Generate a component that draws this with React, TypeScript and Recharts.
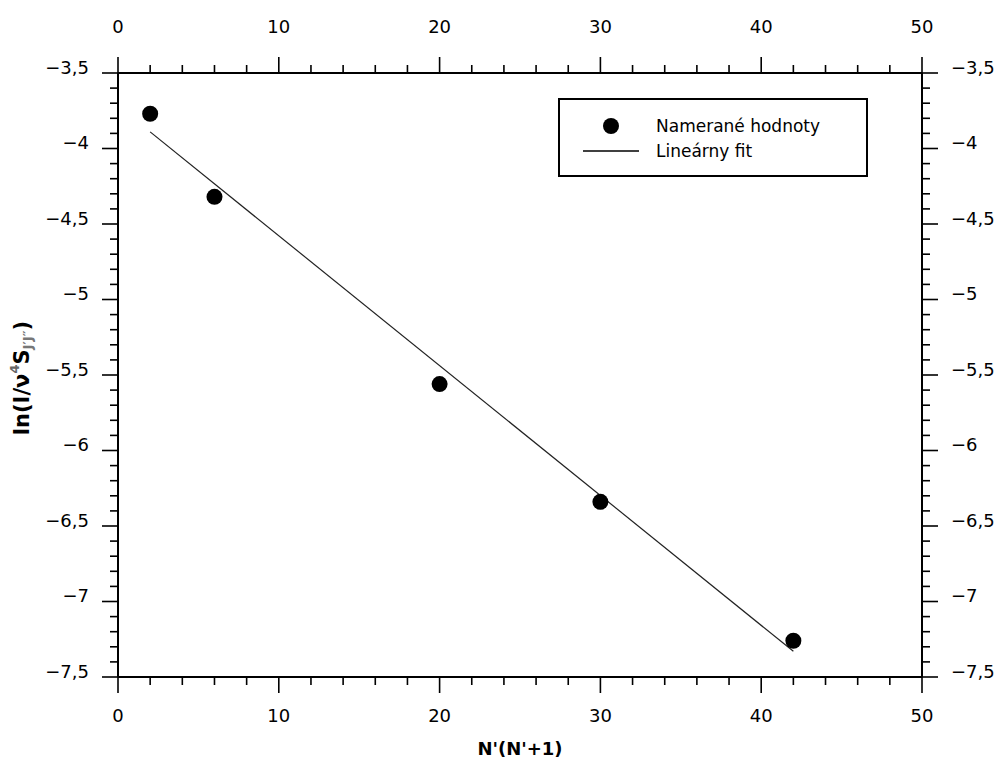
import { ComposedChart, XAxis, YAxis, Scatter, Label } from "recharts";

// measured points: N'(N'+1) vs ln(I / v^4 S)
const nValues = [2, 6, 20, 30, 42];
const lnValues = [-3.77, -4.32, -5.56, -6.34, -7.26];

// linear fit end points
const fitX = [2, 42];
const fitY = [-3.89, -7.33];

// axis ticks (majors get labels, minors are just marks)
const xMajorTicks = [0, 10, 20, 30, 40, 50];
const xMinorStep = 2;
const yMajorTicks = [-7.5, -7, -6.5, -6, -5.5, -5, -4.5, -4, -3.5];
const yMinorStep = 0.1;

const legendItems = ["Namerané hodnoty", "Lineárny fit"];

const points = nValues.map((x, i) => ({ x, y: lnValues[i] }));
const fit = fitX.map((x, i) => ({ x, y: fitY[i] }));

const xTicks: number[] = [];
for (let v = xMajorTicks[0]; v <= xMajorTicks[xMajorTicks.length - 1]; v += xMinorStep) xTicks.push(v);
const yTicks: number[] = [];
for (let i = 0; ; i++) {
  const v = Math.round((yMajorTicks[0] + i * yMinorStep) * 10) / 10;
  if (v > yMajorTicks[yMajorTicks.length - 1] + 1e-9) break;
  yTicks.push(v);
}

const FONT = "'DejaVu Sans', Verdana, sans-serif";
const INK = "#000";

function fmt(v: number) {
  const s = Number.isInteger(v) ? String(v) : v.toFixed(1).replace(".", ",");
  return s.replace("-", "\u2212");
}

const isXMajor = (v: number) => xMajorTicks.includes(v);
const isYMajor = (v: number) => yMajorTicks.some((m) => Math.abs(m - v) < 1e-6);

function XTick(props: any) {
  const { x, y, payload, side } = props;
  const v = payload.value;
  const major = isXMajor(v);
  const dir = side === "bottom" ? 1 : -1;
  const len = major ? 16 : 8;
  return (
    <g>
      <line x1={x} x2={x} y1={y} y2={y + dir * len} stroke={INK} strokeWidth={1.6} />
      {major && (
        <text
          x={x}
          y={side === "bottom" ? y + 38 : y - 47}
          textAnchor="middle"
          dominantBaseline="central"
          fontFamily={FONT}
          fontSize={18}
          fill={INK}
        >
          {fmt(v)}
        </text>
      )}
    </g>
  );
}

function YTick(props: any) {
  const { x, y, payload, side } = props;
  const v = payload.value;
  const major = isYMajor(v);
  const dir = side === "left" ? -1 : 1;
  const len = major ? 16 : 8;
  return (
    <g>
      <line x1={x} x2={x + dir * len} y1={y} y2={y} stroke={INK} strokeWidth={1.6} />
      {major && (
        <text
          x={x + dir * 29}
          y={y - 6}
          textAnchor={side === "left" ? "end" : "start"}
          dominantBaseline="central"
          fontFamily={FONT}
          fontSize={18}
          fill={INK}
        >
          {fmt(v)}
        </text>
      )}
    </g>
  );
}

function Dot(props: any) {
  const { cx, cy } = props;
  return <circle cx={cx} cy={cy} r={8} fill={INK} />;
}

function NoDot() {
  return <g />;
}

function YTitle(props: any) {
  const { viewBox } = props;
  const x = viewBox.x + 22;
  const y = viewBox.y + viewBox.height / 2 + 3;
  return (
    <text
      x={x}
      y={y}
      transform={`rotate(-90, ${x}, ${y})`}
      textAnchor="middle"
      dominantBaseline="central"
      fontFamily={FONT}
      fontWeight="bold"
      fontSize={21}
      fill={INK}
    >
      ln(I/ν
      <tspan fontSize={13} dy={-8} fill="#666">4</tspan>
      <tspan dy={8}>S</tspan>
      <tspan fontSize={13} dy={5} fill="#777">J′J″</tspan>
      <tspan dy={-5}>)</tspan>
    </text>
  );
}

function XTitle(props: any) {
  const { viewBox } = props;
  return (
    <text
      x={viewBox.x + viewBox.width / 2}
      y={viewBox.y + 71}
      textAnchor="middle"
      dominantBaseline="central"
      fontFamily={FONT}
      fontWeight="bold"
      fontSize={18}
      fill={INK}
    >
      N'(N'+1)
    </text>
  );
}

export default function App() {
  return (
    <div style={{ position: "absolute", left: 0, top: 0, width: 1000, height: 766, background: "#fff" }}>
      <ComposedChart width={1000} height={766} margin={{ top: 0, right: 0, bottom: 0, left: 0 }}>
        <XAxis
          xAxisId="b"
          type="number"
          dataKey="x"
          orientation="bottom"
          domain={[0, 50]}
          ticks={xTicks}
          interval={0}
          height={89}
          tickSize={0}
          tickMargin={0}
          tickLine={false}
          axisLine={{ stroke: INK, strokeWidth: 2 }}
          tick={<XTick side="bottom" />}
        >
          <Label content={<XTitle />} />
        </XAxis>
        <XAxis
          xAxisId="t"
          type="number"
          dataKey="x"
          orientation="top"
          domain={[0, 50]}
          ticks={xTicks}
          interval={0}
          height={73}
          tickSize={0}
          tickMargin={0}
          tickLine={false}
          axisLine={{ stroke: INK, strokeWidth: 2 }}
          tick={<XTick side="top" />}
        />
        <YAxis
          yAxisId="l"
          type="number"
          dataKey="y"
          orientation="left"
          domain={[-7.5, -3.5]}
          ticks={yTicks}
          interval={0}
          width={118}
          tickSize={0}
          tickMargin={0}
          tickLine={false}
          axisLine={{ stroke: INK, strokeWidth: 2 }}
          tick={<YTick side="left" />}
        >
          <Label content={<YTitle />} />
        </YAxis>
        <YAxis
          yAxisId="r"
          type="number"
          dataKey="y"
          orientation="right"
          domain={[-7.5, -3.5]}
          ticks={yTicks}
          interval={0}
          width={78}
          tickSize={0}
          tickMargin={0}
          tickLine={false}
          axisLine={{ stroke: INK, strokeWidth: 2 }}
          tick={<YTick side="right" />}
        />
        <Scatter
          xAxisId="t"
          yAxisId="r"
          data={fit}
          line={{ stroke: "#222", strokeWidth: 1.2 }}
          lineType="joint"
          shape={<NoDot />}
          isAnimationActive={false}
        />
        <Scatter xAxisId="b" yAxisId="l" data={points} shape={<Dot />} isAnimationActive={false} />
      </ComposedChart>
      <div
        style={{
          position: "absolute",
          left: 558,
          top: 98,
          width: 306,
          height: 75,
          border: `2px solid ${INK}`,
          background: "#fff",
          fontFamily: FONT,
          fontSize: 17,
          color: INK,
        }}
      >
        {legendItems.map((name, i) => (
          <div
            key={name}
            style={{ position: "absolute", left: 0, top: 14 + i * 25, height: 24, display: "flex", alignItems: "center" }}
          >
            <svg width={96} height={24} style={{ display: "block" }}>
              {i === 0 ? (
                <circle cx={51} cy={12} r={8} fill={INK} />
              ) : (
                <line x1={23} x2={79} y1={12} y2={12} stroke={INK} strokeWidth={1.5} />
              )}
            </svg>
            <span style={{ whiteSpace: "nowrap" }}>{name}</span>
          </div>
        ))}
      </div>
    </div>
  );
}
